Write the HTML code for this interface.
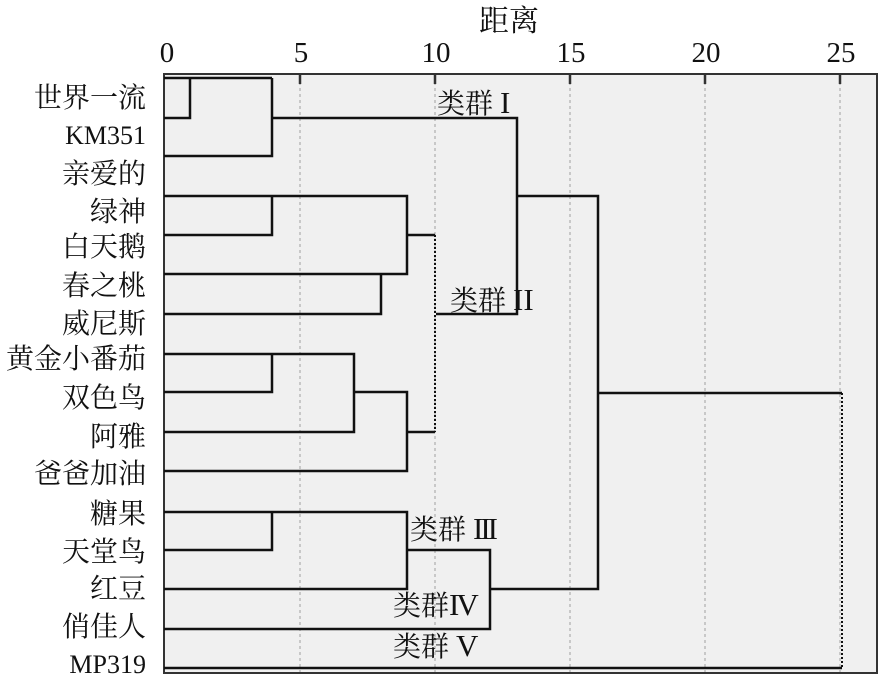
<!DOCTYPE html>
<html><head><meta charset="utf-8"><style>
html,body{margin:0;padding:0;background:#fff;}
svg{display:block;}
text{font-family:"Liberation Serif","Noto Serif CJK SC",serif;fill:#111;}
</style></head><body>
<svg width="879" height="680" viewBox="0 0 879 680" xmlns="http://www.w3.org/2000/svg">
<rect x="164" y="74" width="713" height="599" fill="#f0f0f0" stroke="#333" stroke-width="2"/>
<g stroke="#bbb" stroke-width="1.5" stroke-dasharray="3,3">
<line x1="300" y1="76" x2="300" y2="672"/><line x1="435" y1="76" x2="435" y2="672"/>
<line x1="570" y1="76" x2="570" y2="672"/><line x1="705" y1="76" x2="705" y2="672"/>
<line x1="840" y1="76" x2="840" y2="672"/>
</g>
<g stroke="#333" stroke-width="2.5">
<line x1="300" y1="74" x2="300" y2="84"/><line x1="435" y1="74" x2="435" y2="84"/>
<line x1="570" y1="74" x2="570" y2="84"/><line x1="705" y1="74" x2="705" y2="84"/>
<line x1="840" y1="74" x2="840" y2="84"/>
</g>
<g font-size="29" text-anchor="middle">
<text x="167" y="62">0</text><text x="301" y="62">5</text><text x="436" y="62">10</text>
<text x="571" y="62">15</text><text x="706" y="62">20</text><text x="841" y="62">25</text>
<text x="509" y="31" font-size="30">距离</text>
</g>
<g fill="none" stroke="#111" stroke-width="2.5">
<polyline points="164,78 272,78"/><polyline points="190,78 190,118 164,118"/>
<polyline points="272,78 272,156 164,156"/><polyline points="272,118 517,118 517,314 436,314"/>
<polyline points="164,196 407,196 407,274 164,274"/><polyline points="272,196 272,235 164,235"/>
<polyline points="407,235 435,235"/><polyline points="381,274 381,314 164,314"/>
<polyline points="164,354 354,354 354,432 164,432"/><polyline points="272,354 272,392 164,392"/>
<polyline points="354,392 407,392 407,471 164,471"/><polyline points="407,432 435,432"/>
<polyline points="164,512 407,512 407,589 164,589"/><polyline points="272,512 272,550 164,550"/>
<polyline points="407,550 490,550 490,629 164,629"/><polyline points="490,589 598,589 598,196 517,196"/>
<polyline points="598,393 842,393"/><polyline points="164,668 842,668"/>
</g>
<g stroke="#111" stroke-width="2" stroke-dasharray="2,2" fill="none">
<line x1="435" y1="235" x2="435" y2="432"/><line x1="842" y1="393" x2="842" y2="668"/>
</g>
<g font-size="28">
<text x="437" y="113">类群 <tspan font-size="31">I</tspan></text>
<text x="450" y="310">类群 <tspan font-size="31">II</tspan></text>
<text x="410" y="539">类群 <tspan font-size="31" letter-spacing="-3">III</tspan></text>
<text x="393" y="615">类群<tspan font-size="31" letter-spacing="-3">IV</tspan></text>
<text x="393" y="656">类群 <tspan font-size="31">V</tspan></text>
</g>
<g font-size="28" text-anchor="end">
<text x="146" y="107">世界一流</text><text x="146" y="144" font-size="26">KM351</text><text x="146" y="183">亲爱的</text>
<text x="146" y="221">绿神</text><text x="146" y="256">白天鹅</text><text x="146" y="295">春之桃</text>
<text x="146" y="333">威尼斯</text><text x="146" y="368">黄金小番茄</text><text x="146" y="407">双色鸟</text>
<text x="146" y="446">阿雅</text><text x="146" y="483">爸爸加油</text><text x="146" y="523">糖果</text>
<text x="146" y="561">天堂鸟</text><text x="146" y="598">红豆</text><text x="146" y="636">俏佳人</text>
<text x="146" y="673" font-size="26">MP319</text>
</g>
</svg>
</body></html>
